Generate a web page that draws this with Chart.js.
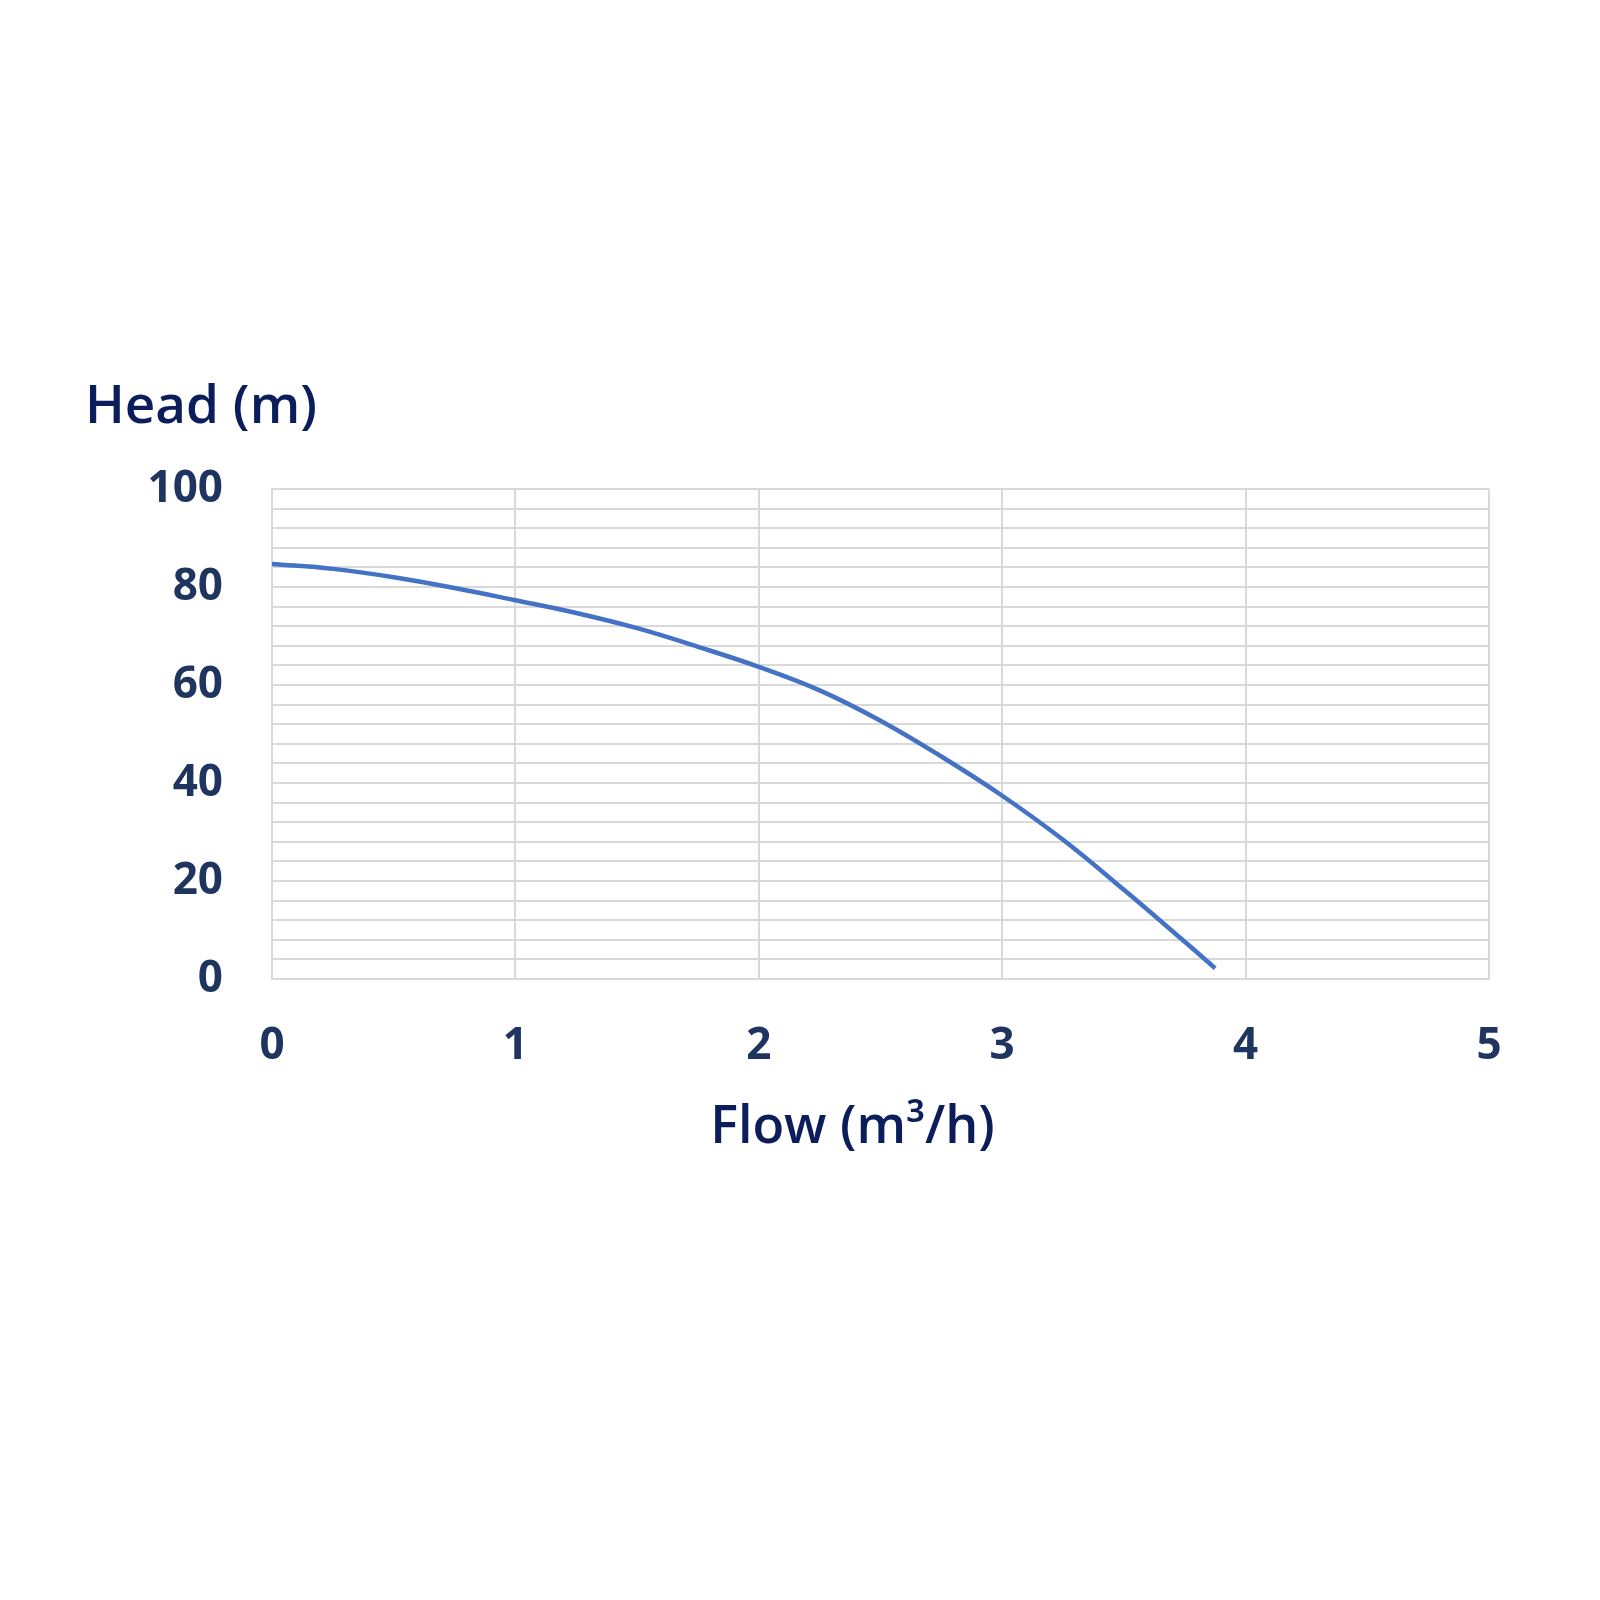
<!DOCTYPE html>
<html>
<head>
<meta charset="utf-8">
<script src="https://cdn.jsdelivr.net/npm/chart.js@4"></script>
<style>
  html, body { margin: 0; padding: 0; background: #ffffff; }
  #wrap { width: 1600px; height: 1600px; }
</style>
</head>
<body>
<div id="wrap"><canvas id="c" width="1600" height="1600"></canvas></div>
<script>
// Data
const flow = [0, 0.25, 0.5, 0.75, 1.0, 1.25, 1.5, 1.75, 2.0, 2.25, 2.5, 2.75, 3.0, 3.25, 3.5, 3.75, 3.875];
const head = [84.7, 83.7, 82.0, 79.8, 77.3, 74.7, 71.6, 67.8, 63.7, 58.9, 52.7, 45.4, 37.4, 28.4, 18.2, 7.6, 2.2];
const xTickLabels = ['0', '1', '2', '3', '4', '5'];
const yTickLabels = ['0', '20', '40', '60', '80', '100'];
const yTitle = 'Head (m)';
const xTitle = 'Flow (m\u00B3/h)';

const tickColor = '#1f3560';
const titleColor = '#0b1d5b';
const gridColor = '#d9d9d9';

const points = flow.map((f, i) => ({ x: f, y: head[i] }));

const titlesPlugin = {
  id: 'axisTitles',
  afterDraw(chart) {
    const ctx = chart.ctx;
    const a = chart.chartArea;
    ctx.save();
    ctx.fillStyle = titleColor;
    ctx.textBaseline = 'alphabetic';
    ctx.font = '600 53px "Open Sans"';
    ctx.textAlign = 'left';
    ctx.fillText(yTitle, a.left - 187, a.top - 66);
    ctx.font = '600 52px "Open Sans"';
    ctx.textAlign = 'center';
    ctx.fillText(xTitle, (a.left + a.right) / 2 - 28, a.bottom + 164);
    ctx.restore();
  }
};

new Chart(document.getElementById('c'), {
  type: 'line',
  data: {
    datasets: [{
      data: points,
      borderColor: '#4472c4',
      borderWidth: 4.5,
      pointRadius: 0,
      fill: false,
      tension: 0.4
    }]
  },
  options: {
    responsive: false,
    animation: false,
    devicePixelRatio: 1,
    layout: { padding: { top: 489, right: 111, bottom: 0, left: 0 } },
    plugins: { legend: { display: false }, tooltip: { enabled: false } },
    scales: {
      x: {
        type: 'linear',
        min: 0, max: 5,
        afterFit(s) { s.height = 621; },
        ticks: {
          stepSize: 1,
          padding: 41,
          color: tickColor,
          font: { family: '"Open Sans"', size: 44, weight: 'bold' },
          callback: (v) => { const i = Math.round(v); return (Math.abs(v - i) < 1e-6 && xTickLabels[i] !== undefined) ? xTickLabels[i] : ''; }
        },
        grid: { color: gridColor, lineWidth: 2, drawTicks: false },
        border: { color: gridColor, width: 2 }
      },
      y: {
        type: 'linear',
        min: 0, max: 100,
        afterFit(s) { s.width = 272; },
        ticks: {
          stepSize: 4,
          autoSkip: false,
          padding: 49,
          color: tickColor,
          font: { family: '"Open Sans"', size: 44, weight: 'bold' },
          callback: (v) => {
            const r = Math.round(v);
            if (r % 20 !== 0) return '';
            return yTickLabels[r / 20];
          }
        },
        grid: { color: gridColor, lineWidth: 2, drawTicks: false },
        border: { color: gridColor, width: 2 }
      }
    }
  },
  plugins: [titlesPlugin]
});
</script>
</body>
</html>
